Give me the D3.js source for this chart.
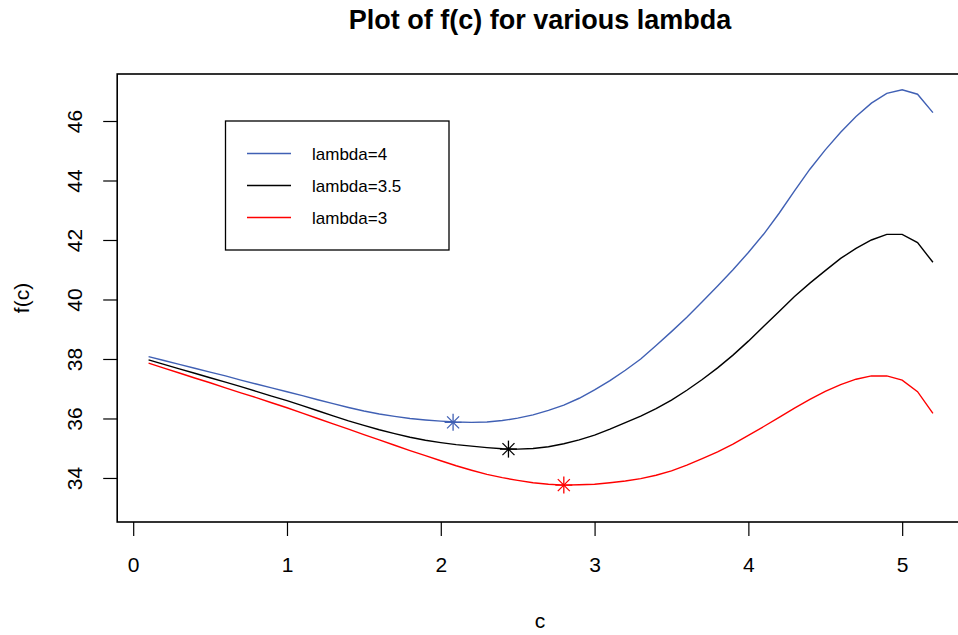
<!DOCTYPE html>
<html lang="en">
<head>
    <meta charset="UTF-8">
    <title>Plot of f(c) for various lambda</title>
    <script src="https://d3js.org/d3.v7.min.js"></script>
    <style>
        body {
            margin: 0;
            padding: 0;
            background: #fff;
        }
        svg text {
            font-family: "Liberation Sans", Arial, Helvetica, sans-serif;
            fill: #000;
        }
        .curve {
            fill: none;
            stroke-width: 1.4px;
        }
    </style>
</head>
<body>
    <svg id="chart" width="958" height="635"></svg>

    <script>
        // c grid 0.1 .. 5.2
        const cValues = [0.1, 0.2, 0.3, 0.4, 0.5, 0.6, 0.7, 0.8, 0.9, 1.0,
                         1.1, 1.2, 1.3, 1.4, 1.5, 1.6, 1.7, 1.8, 1.9, 2.0,
                         2.1, 2.2, 2.3, 2.4, 2.5, 2.6, 2.7, 2.8, 2.9, 3.0,
                         3.1, 3.2, 3.3, 3.4, 3.5, 3.6, 3.7, 3.8, 3.9, 4.0,
                         4.1, 4.2, 4.3, 4.4, 4.5, 4.6, 4.7, 4.8, 4.9, 5.0,
                         5.1, 5.2];

        const fLambda4 = [38.08, 37.95, 37.82, 37.69, 37.56, 37.43, 37.29, 37.16, 37.03, 36.90,
                          36.77, 36.63, 36.50, 36.37, 36.25, 36.15, 36.07, 36.00, 35.95, 35.91,
                          35.88, 35.87, 35.88, 35.93, 36.01, 36.12, 36.27, 36.45, 36.68, 36.96,
                          37.27, 37.62, 38.00, 38.45, 38.92, 39.40, 39.92, 40.45, 41.00, 41.58,
                          42.20, 42.90, 43.65, 44.38, 45.03, 45.62, 46.15, 46.60, 46.93, 47.05,
                          46.90, 46.28];

        const fLambda35 = [37.97, 37.82, 37.67, 37.52, 37.37, 37.22, 37.07, 36.91, 36.75, 36.60,
                           36.43, 36.26, 36.09, 35.92, 35.77, 35.62, 35.49, 35.37, 35.27, 35.19,
                           35.12, 35.07, 35.02, 34.98, 34.97, 34.99, 35.05, 35.15, 35.28, 35.44,
                           35.64, 35.86, 36.08, 36.33, 36.62, 36.95, 37.31, 37.70, 38.13, 38.60,
                           39.10, 39.60, 40.10, 40.55, 40.97, 41.38, 41.72, 42.00, 42.19, 42.19,
                           41.91, 41.25];

        const fLambda3 = [37.86, 37.69, 37.53, 37.36, 37.20, 37.03, 36.86, 36.70, 36.53, 36.36,
                          36.18, 36.00, 35.82, 35.64, 35.46, 35.28, 35.10, 34.92, 34.75, 34.58,
                          34.41, 34.26, 34.12, 34.01, 33.92, 33.84, 33.79, 33.76, 33.77, 33.79,
                          33.84, 33.90, 33.98, 34.09, 34.24, 34.43, 34.65, 34.88, 35.14, 35.43,
                          35.73, 36.04, 36.35, 36.64, 36.91, 37.14, 37.32, 37.43, 37.43, 37.29,
                          36.90, 36.17];

        // minimum of each curve (c, f)
        const minC = [2.08, 2.44, 2.80];
        const minF = [35.87, 34.97, 33.76];

        const seriesNames = ["lambda=4", "lambda=3.5", "lambda=3"];
        const seriesColors = ["#4060b4", "#000000", "#ff0000"];
        const xTicks = [0, 1, 2, 3, 4, 5];
        const yTicks = [34, 36, 38, 40, 42, 44, 46];

        const svg = d3.select("#chart");

        const x = d3.scaleLinear().domain([-0.104, 5.404]).range([117.2, 964.3]);
        const y = d3.scaleLinear().domain([32.52, 47.58]).range([522, 74]);

        // title
        svg.append("text")
            .attr("x", 540).attr("y", 29)
            .attr("text-anchor", "middle")
            .style("font-size", "27px")
            .style("font-weight", "bold")
            .text("Plot of f(c) for various lambda");

        // curves
        const series = [fLambda4, fLambda35, fLambda3];
        const line = d3.line()
            .x((d, i) => x(cValues[i]))
            .y(d => y(d));

        const g = svg.append("g");
        series.forEach((vals, k) => {
            g.append("path")
                .datum(vals)
                .attr("class", "curve")
                .attr("stroke", seriesColors[k])
                .attr("d", line);
        });

        // asterisks at minima (pch = 8)
        const r = 8.5;
        minC.forEach((cv, k) => {
            const px = x(cv), py = y(minF[k]);
            const s = g.append("g")
                .attr("transform", `translate(${px},${py})`)
                .attr("stroke", seriesColors[k])
                .attr("stroke-width", 1.3);
            s.append("line").attr("x1", -r).attr("x2", r).attr("y1", 0).attr("y2", 0);
            s.append("line").attr("x1", 0).attr("x2", 0).attr("y1", -r).attr("y2", r);
            const d = r * 0.707;
            s.append("line").attr("x1", -d).attr("x2", d).attr("y1", -d).attr("y2", d);
            s.append("line").attr("x1", -d).attr("x2", d).attr("y1", d).attr("y2", -d);
        });

        // box
        svg.append("rect")
            .attr("x", x.range()[0]).attr("y", y.range()[1])
            .attr("width", x.range()[1] - x.range()[0])
            .attr("height", y.range()[0] - y.range()[1])
            .attr("fill", "none")
            .attr("stroke", "#000")
            .attr("stroke-width", 1.6);

        // x axis
        const xAxis = svg.append("g")
            .attr("transform", `translate(0,522)`)
            .call(d3.axisBottom(x).tickValues(xTicks).tickSize(14).tickPadding(21).tickFormat(d3.format("d")));
        xAxis.select(".domain").remove();
        xAxis.selectAll("line").attr("stroke-width", 1.2);
        xAxis.selectAll("text")
            .style("font-size", "21px")
            .style("font-family", "'Liberation Sans', Arial, sans-serif");

        // y axis
        const yAxis = svg.append("g")
            .attr("transform", `translate(${x.range()[0]},0)`)
            .call(d3.axisLeft(y).tickValues(yTicks).tickSize(14).tickFormat(d3.format("d")));
        yAxis.select(".domain").remove();
        yAxis.selectAll("line").attr("stroke-width", 1.2);
        yAxis.selectAll("text")
            .attr("x", null).attr("dy", null)
            .attr("transform", "translate(-35,0) rotate(-90)")
            .attr("text-anchor", "middle")
            .style("font-size", "21px")
            .style("font-family", "'Liberation Sans', Arial, sans-serif");

        // axis titles
        svg.append("text")
            .attr("x", 540).attr("y", 628)
            .attr("text-anchor", "middle")
            .style("font-size", "21px")
            .text("c");

        svg.append("text")
            .attr("transform", `translate(29,${(74 + 522) / 2}) rotate(-90)`)
            .attr("text-anchor", "middle")
            .style("font-size", "21px")
            .text("f(c)");

        // legend
        const legend = svg.append("g");
        legend.append("rect")
            .attr("x", 225.5).attr("y", 121)
            .attr("width", 223.5).attr("height", 129)
            .attr("fill", "#fff")
            .attr("stroke", "#000")
            .attr("stroke-width", 1.3);
        seriesNames.forEach((name, k) => {
            const ly = 153.5 + k * 32;
            legend.append("line")
                .attr("x1", 247).attr("x2", 291)
                .attr("y1", ly).attr("y2", ly)
                .attr("stroke", seriesColors[k])
                .attr("stroke-width", 1.4);
            legend.append("text")
                .attr("x", 312).attr("y", ly + 6)
                .style("font-size", "17px")
                .text(name);
        });
    </script>
</body>
</html>
